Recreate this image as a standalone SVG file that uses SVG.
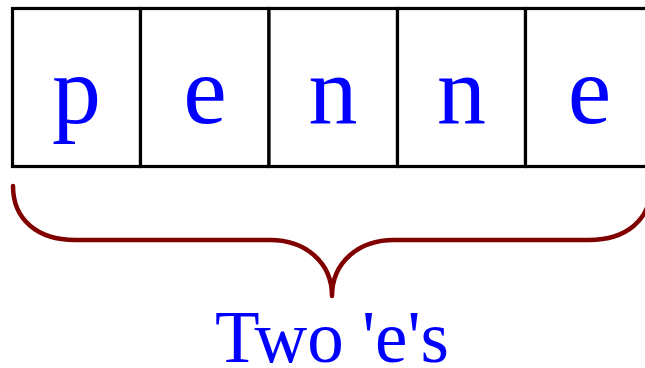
<svg xmlns="http://www.w3.org/2000/svg" width="645" height="368" viewBox="0 0 645 368">
<style>
.cell{fill:#fff;stroke:#000;stroke-width:3.2}
.ch{font-family:"Liberation Serif","Times New Roman",serif;font-size:98px;fill:#0000ff;text-anchor:middle}
.lbl{font-family:"Liberation Serif","Times New Roman",serif;font-size:73px;fill:#0000ff;text-anchor:middle}
.brace{fill:none;stroke:#800000;stroke-width:4.5;stroke-linecap:round;stroke-linejoin:round}
</style>
<rect width="645" height="368" fill="#fff"/>
<g id="cell1"><rect class="cell" x="12.5" y="8.5" width="128" height="158"/><text class="ch" x="76.5" y="123">p</text></g>
<g id="cell2"><rect class="cell" x="140.5" y="8.5" width="128.5" height="158"/><text class="ch" x="205" y="123">e</text></g>
<g id="cell3"><rect class="cell" x="269" y="8.5" width="128.5" height="158"/><text class="ch" x="333" y="123">n</text></g>
<g id="cell4"><rect class="cell" x="397.5" y="8.5" width="128" height="158"/><text class="ch" x="461.5" y="123">n</text></g>
<g id="cell5"><rect class="cell" x="525.5" y="8.5" width="128" height="158"/><text class="ch" x="589.5" y="123">e</text></g>
<g id="connectors">
<path class="brace" d="M13,186 C13,220 38,240 75,240 H270 C305,240 332,262 332,296 C332,262 359,240 394,240 H589 C626,240 651,220 651,186"/>
</g>
<g id="label"><text class="lbl" x="332" y="362">Two 'e's</text></g>
</svg>
